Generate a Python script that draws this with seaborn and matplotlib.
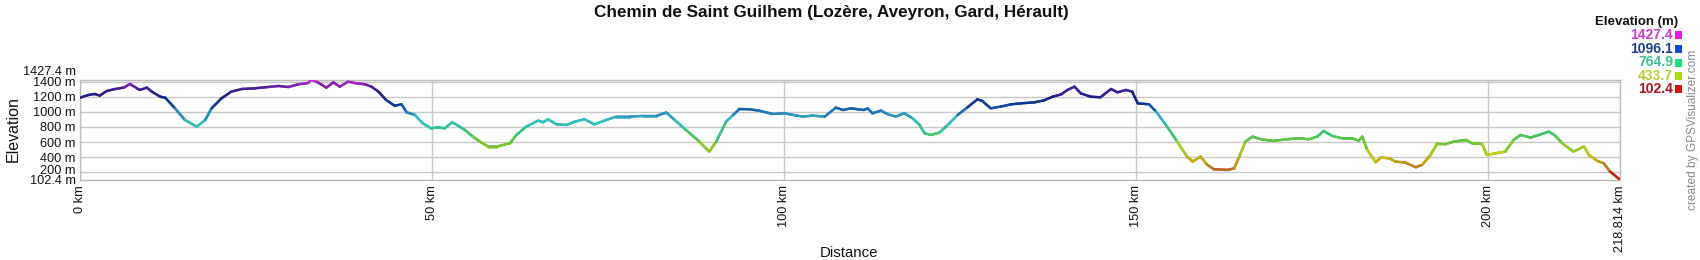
import numpy as np
import pandas as pd
import matplotlib
matplotlib.use("Agg")
import matplotlib.pyplot as plt
import matplotlib.transforms as mtransforms
import seaborn as sns
from matplotlib.collections import LineCollection
from matplotlib.colors import LinearSegmentedColormap, Normalize
from matplotlib.patches import Rectangle

# ---------------- data ----------------
distance_km = [
    0.0, 1.2, 2.1, 2.8, 3.8, 5.0, 6.2, 7.1, 8.1, 8.5, 9.5, 10.2, 11.4, 12.1, 13.5, 14.9,
    16.6, 17.8, 18.7, 20.1, 21.5, 23.0, 24.8, 26.7, 28.2, 29.6, 31.0, 32.4, 32.9, 33.8,
    35.0, 36.0, 36.9, 38.1, 39.3, 40.5, 41.4, 42.4, 43.5, 44.7, 45.7, 46.4, 47.6, 48.7,
    49.9, 50.9, 51.8, 52.9, 53.7, 54.7, 55.8, 56.8, 58.0, 59.2, 61.1, 62.0, 63.4, 65.1,
    65.8, 66.5, 67.7, 69.1, 70.3, 71.7, 73.1, 74.8, 76.2, 78.1, 80.0, 81.9, 83.3, 84.5,
    86.1, 88.0, 89.4, 90.4, 91.8, 92.8, 93.7, 95.1, 96.5, 98.4, 100.1, 101.3, 102.7,
    104.1, 105.8, 107.4, 108.4, 109.6, 110.5, 111.4, 111.9, 112.6, 113.8, 114.8, 115.9,
    117.1, 118.3, 119.3, 120.0, 120.9, 122.1, 123.3, 124.7, 126.1, 127.5, 128.2, 129.4,
    130.8, 132.3, 133.7, 135.6, 137.0, 138.2, 139.4, 140.3, 141.3, 142.2, 143.6, 145.0,
    146.5, 147.4, 148.6, 149.5, 150.3, 151.9, 152.9, 154.3, 155.9, 157.3, 158.1, 159.2,
    160.2, 161.1, 163.0, 164.0, 164.7, 165.6, 166.6, 167.8, 169.4, 171.5, 173.2, 174.6,
    175.8, 176.7, 177.9, 179.3, 180.7, 181.7, 182.2, 182.9, 184.1, 184.8, 186.0, 186.9,
    188.3, 189.8, 190.7, 191.9, 192.8, 194.0, 195.2, 196.9, 197.8, 199.2, 199.9, 201.1,
    202.5, 203.7, 204.7, 206.1, 207.3, 208.7, 209.6, 210.6, 212.2, 213.7, 214.4, 215.6,
    216.5, 217.4, 218.814,
]
elevation_m = [
    1188, 1224, 1237, 1215, 1276, 1303, 1321, 1369, 1312, 1290, 1321, 1268, 1201, 1188, 1047, 893,
    804, 893, 1047, 1179, 1268, 1303, 1312, 1329, 1343, 1329, 1365, 1382, 1427.4, 1391,
    1321, 1391, 1334, 1400, 1378, 1365, 1334, 1268, 1157, 1082, 1100, 994, 959, 848,
    782, 796, 782, 862, 818, 760, 672, 606, 540, 540, 584, 694, 804, 884,
    862, 901, 835, 826, 870, 901, 835, 893, 937, 937, 946, 946, 990, 893,
    760, 606, 473, 606, 870, 959, 1038, 1034, 1016, 972, 981, 959, 937,
    950, 937, 1056, 1025, 1047, 1034, 1025, 1047, 981, 1016, 968, 937,
    981, 915, 826, 716, 694, 725, 826, 959, 1060, 1166, 1144, 1047,
    1069, 1100, 1113, 1126, 1153, 1201, 1232, 1290, 1334, 1245, 1201, 1193,
    1303, 1259, 1290, 1268, 1113, 1100, 1003, 826, 606, 407, 341, 407,
    297, 240, 231, 250, 407, 606, 672, 637, 615, 637, 650, 637,
    672, 747, 681, 650, 650, 619, 672, 496, 332, 394, 385, 341,
    328, 266, 297, 429, 575, 571, 606, 628, 584, 575, 429, 451,
    473, 628, 694, 659, 694, 738, 685, 584, 473, 540, 429, 350,
    319, 209, 102.4,
]

elev_min, elev_max = 102.4, 1427.4
y_ticks = [102.4, 200, 400, 600, 800, 1000, 1200, 1400, 1427.4]
y_tick_labels = ["102.4 m", "200 m", "400 m", "600 m", "800 m", "1000 m", "1200 m", "1400 m", "1427.4 m"]
x_ticks = [0, 50, 100, 150, 200, 218.814]
x_tick_labels = ["0 km", "50 km", "100 km", "150 km", "200 km", "218.814 km"]

legend_values = ["1427.4", "1096.1", "764.9", "433.7", "102.4"]
legend_text_colors = ["#cc3fcc", "#213c8f", "#3fbf98", "#bccb3a", "#aa1420"]
legend_swatch_colors = ["#e61ee6", "#1446dc", "#1edc82", "#aadc00", "#dc0a0a"]

title = "Chemin de Saint Guilhem (Lozère, Aveyron, Gard, Hérault)"

# ---------------- style ----------------
sns.set_theme(style="white")
plt.rcParams["font.family"] = ["Liberation Sans", "DejaVu Sans"]

W, H = 1700, 260
fig = plt.figure(figsize=(W / 100, H / 100), dpi=100)
ax_l, ax_r, ax_t, ax_b = 80, 1620, 79.6, 179.6
ax = fig.add_axes([ax_l / W, 1 - ax_b / H, (ax_r - ax_l) / W, (ax_b - ax_t) / H])

df = pd.DataFrame({"distance": distance_km, "elevation": elevation_m})
sns.lineplot(data=df, x="distance", y="elevation", ax=ax, color="#2a6fb0", lw=1.6, zorder=2)

# elevation coloured profile
stops = [
    (102.4, "#c80000"),
    (260, "#c07818"),
    (433.7, "#d2d200"),
    (600, "#6cc82a"),
    (764.9, "#2ac88c"),
    (900, "#30c4c8"),
    (1000, "#2078b4"),
    (1096.1, "#123a96"),
    (1200, "#1c1f82"),
    (1320, "#4f1c9a"),
    (1427.4, "#dc28dc"),
]
cmap = LinearSegmentedColormap.from_list(
    "gpsv", [((v - elev_min) / (elev_max - elev_min), c) for v, c in stops])
norm = Normalize(elev_min, elev_max)
xs = np.asarray(df["distance"], dtype=float)
ys = np.asarray(df["elevation"], dtype=float)
pts = np.column_stack([xs, ys]).reshape(-1, 1, 2)
segs = np.concatenate([pts[:-1], pts[1:]], axis=1)
lc = LineCollection(segs, cmap=cmap, norm=norm, linewidths=1.8, capstyle="round", joinstyle="round", zorder=3)
lc.set_array((ys[:-1] + ys[1:]) / 2)
ax.add_collection(lc)

ax.set_xlim(0, 218.814)
ax.set_ylim(elev_min, elev_max)
ax.set_yticks(y_ticks)
ax.set_yticklabels(y_tick_labels)
ax.set_xticks(x_ticks)
ax.set_xticklabels(x_tick_labels, rotation=90)
ax.tick_params(axis="both", length=0, labelsize=9.2, colors="#111111")
ax.tick_params(axis="y", pad=3)
ax.tick_params(axis="x", pad=4)
for lab in ax.get_xticklabels():
    lab.set_verticalalignment("top")

# the extreme labels sit just outside their neighbours, as in the reference
ylabs = ax.get_yticklabels()
ylabs[-1].set_verticalalignment("bottom")
ylabs[-1].set_transform(ylabs[-1].get_transform() +
                        mtransforms.ScaledTranslation(0, 2 / 100, fig.dpi_scale_trans))
ylabs[0].set_verticalalignment("top")
ylabs[0].set_transform(ylabs[0].get_transform() +
                       mtransforms.ScaledTranslation(0, 5 / 100, fig.dpi_scale_trans))
ylabs[1].set_transform(ylabs[1].get_transform() +
                       mtransforms.ScaledTranslation(0, 3 / 100, fig.dpi_scale_trans))

ax.set_xlabel("")
ax.set_ylabel("")
ax.grid(True, color="#c8c8c8", lw=1.0)
ax.set_axisbelow(True)
for s in ax.spines.values():
    s.set_color("#bdbdbd")
    s.set_linewidth(1.0)

# texts
fig.text(831 / W, 1 - 13 / H, title, ha="center", va="center", fontsize=12.3, fontweight="bold", color="#111111")
fig.text(13 / W, 1 - 129 / H, "Elevation", rotation=90, ha="center", va="center", fontsize=11.5, color="#111111")
fig.text(849 / W, 1 - 253 / H, "Distance", ha="center", va="center", fontsize=10.8, color="#111111")

fig.text(1637 / W, 1 - 22 / H, "Elevation (m)", ha="center", va="center", fontsize=9.5, fontweight="bold", color="#111111")
rows_y = [35, 49, 62.5, 76, 89]
for val, tc, sc, ry in zip(legend_values, legend_text_colors, legend_swatch_colors, rows_y):
    fig.text(1673 / W, 1 - ry / H, val, ha="right", va="center", fontsize=10, fontweight="bold", color=tc)
    fig.patches.append(Rectangle((1675 / W, 1 - (ry + 4) / H), 7 / W, 8 / H,
                                 transform=fig.transFigure, facecolor=sc, edgecolor="none"))

fig.text(1693 / W, 1 - 130 / H, "created by GPSVisualizer.com", rotation=90, ha="center", va="center",
         fontsize=8.6, color="#8a8a8a")

fig.savefig("out.png", dpi=100)
